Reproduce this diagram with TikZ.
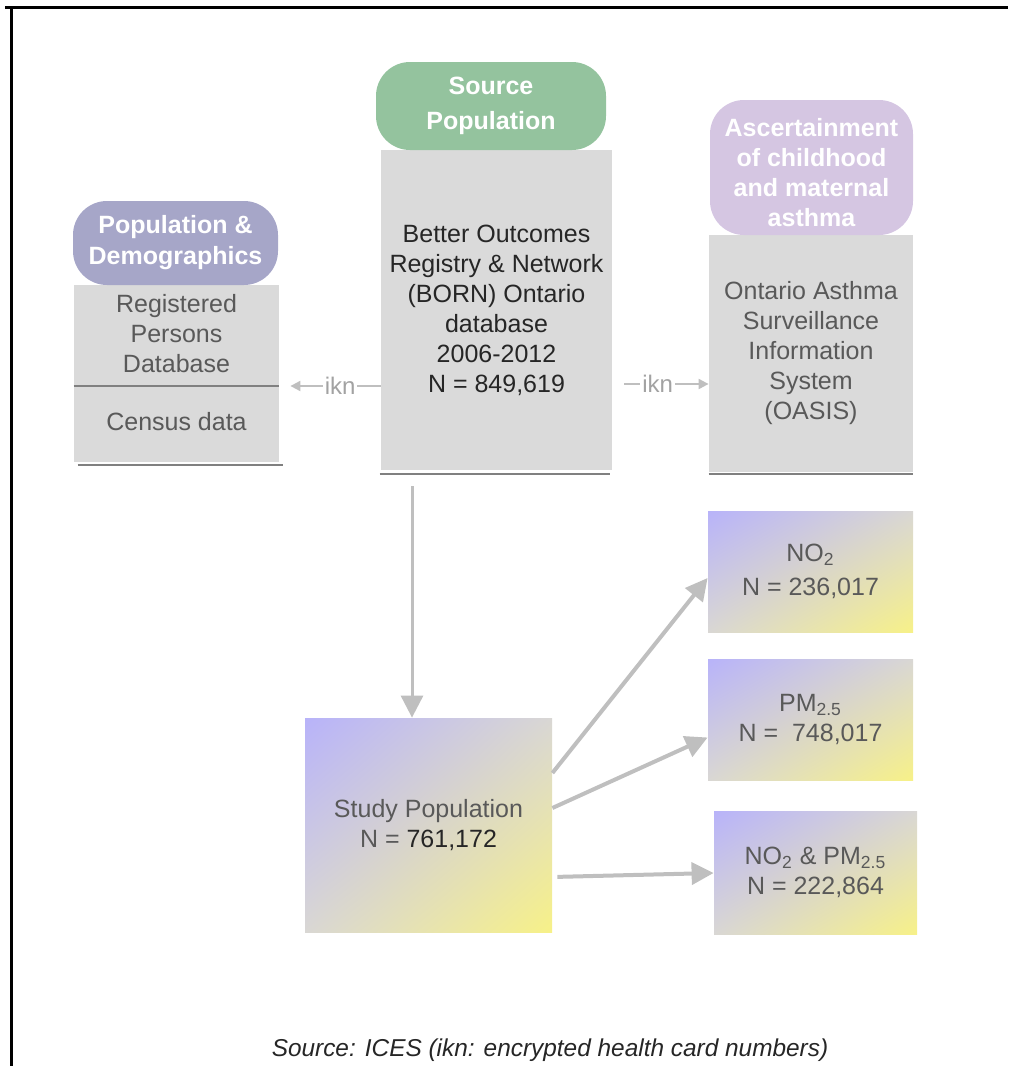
\documentclass[tikz,border=0pt]{standalone}
\usepackage{fontspec}
\setmainfont{Liberation Sans}
\usetikzlibrary{arrows.meta,shadings}

\definecolor{srcgreen}{HTML}{94C39E}
\definecolor{demoblue}{HTML}{A6A6C8}
\definecolor{asthmapurple}{HTML}{D5C6E2}
\definecolor{boxgray}{HTML}{DADADA}
\definecolor{linegray}{HTML}{808080}
\definecolor{arrowgray}{HTML}{BFBFBF}
\definecolor{txtgray}{HTML}{595959}
\definecolor{txtdark}{HTML}{262626}
\definecolor{gradblue}{HTML}{B8B3F9}
\definecolor{gradmid}{HTML}{D9D7D4}
\definecolor{gradyellow}{HTML}{F7F188}

\begin{document}
\begin{tikzpicture}[x=0.5pt,y=-0.5pt,
  every node/.style={font=\fontsize{12.5}{15}\selectfont, align=center},
  pill/.style={fill=#1, rounded corners=17pt, text=white, font=\fontsize{12.5}{15.5}\selectfont\bfseries, inner sep=0pt},
  graybox/.style={fill=boxgray, text=txtgray, inner sep=0pt},
  expbox/.style={shade, upper left=gradblue, lower right=gradyellow,
    upper right=gradmid, lower left=gradmid, text=txtgray, inner sep=0pt},
  baseline/.style={linegray, line width=1pt},
  ikn/.style={arrowgray, line width=1pt, -{Triangle[length=5pt,width=5pt]}},
  iknlabel/.style={fill=white, text=arrowgray!85!black, inner sep=1pt, font=\fontsize{12}{14}\selectfont},
  flow/.style={arrowgray, line width=2pt, -{Triangle[length=11pt,width=11pt]}}]
%\draw[gray!35] (0,0) grid[step=50] (1008,1066);
\useasboundingbox (0,0) rectangle (1008,1066);

% frame
\draw[line width=1.5pt] (5,7) -- (1008,7);
\draw[line width=1.5pt] (11,7) -- (11,1066);

% source population
\node[graybox, text=txtdark, minimum width=115.5pt, minimum height=160pt] (born) at (496.5,310)
  {Better Outcomes\\Registry \& Network\\(BORN) Ontario\\database\\2006-2012\\N = 849,619};
\node[pill=srcgreen, minimum width=115pt, minimum height=44pt] (src) at (491,106)
  {Source\\[2pt]Population};
\draw[baseline] ([shift={(-0.5pt,-2pt)}]born.south west) -- ([shift={(-1pt,-2pt)}]born.south east);

% population & demographics
\node[graybox, minimum width=102.5pt, minimum height=88.5pt] (rpd) at (176.5,373.5) {};
\node[pill=demoblue, minimum width=102.5pt, minimum height=42pt] (demo) at (175.5,243)
  {Population \&\\Demographics};
\node[text=txtgray] (rpdtxt) at (176.5,334) {Registered\\Persons\\Database};
\node[text=txtgray] (census) at (176.5,422) {Census data};
\draw[baseline] ([yshift=-50.5pt]rpd.north west) -- ([yshift=-50.5pt]rpd.north east);
\draw[baseline] ([shift={(2pt,-1.5pt)}]rpd.south west) -- ([shift={(2pt,-1.5pt)}]rpd.south east);

% asthma
\node[graybox, minimum width=102pt, minimum height=118.5pt] (oasis) at (811,353.5)
  {Ontario Asthma\\Surveillance\\Information\\System\\(OASIS)};
\node[pill=asthmapurple, minimum width=101.5pt, minimum height=67.5pt] (asthma) at (811.5,167.5) {};
\node[text=white, font=\fontsize{12.5}{15}\selectfont\bfseries] (asthmatxt) at (811.5,173)
  {Ascertainment\\of childhood\\and maternal\\asthma};
\draw[baseline] ([yshift=-1pt]oasis.south west) -- ([yshift=-1pt]oasis.south east);

% linkage
\draw[ikn, shorten >=5.5pt] ([yshift=-38pt]born.west) -- node[iknlabel, pos=0.4] {ikn}
  ([yshift=-38pt]born.west -| rpd.east);
\draw[ikn, shorten <=6pt] ([yshift=-37pt]born.east) -- node[iknlabel, pos=0.47] {ikn}
  ([yshift=-37pt]born.east -| oasis.west);

% study population and exposures
\node[expbox, minimum width=123.5pt, minimum height=107pt] (study) at (428.5,825)
  {Study Population\\N = {\color{txtdark}761,172}};
\node[expbox, minimum width=102.5pt, minimum height=60.5pt] (no2) at (810.5,571.5)
  {NO\textsubscript{2}\\[2pt]N = 236,017};
\node[expbox, minimum width=102.5pt, minimum height=60.5pt] (pm) at (810.5,719.5)
  {PM\textsubscript{2.5}\\N =\ \ 748,017};
\node[expbox, minimum width=101.5pt, minimum height=61.5pt] (both) at (815.5,872.5)
  {NO\textsubscript{2} \& PM\textsubscript{2.5}\\N = 222,864};

\draw[flow, line width=1.5pt, shorten <=8pt] ([xshift=-42.25pt]born.south) -- ([xshift=-42.25pt]born.south |- study.north);
\draw[flow] ([yshift=26pt]study.east) -- ([yshift=-3.25pt]no2.west);
\draw[flow] ([yshift=8.5pt]study.east) -- ([yshift=-9pt]pm.west);
\draw[flow, shorten <=2.5pt] ([yshift=-26pt]study.east) -- ([yshift=-0.25pt]both.west);

% source note
\node[text=txtdark, font=\fontsize{12.2}{14}\selectfont\itshape] (note) at (550,1050)
  {Source: ICES (ikn: encrypted health card numbers)};
\end{tikzpicture}
\end{document}
